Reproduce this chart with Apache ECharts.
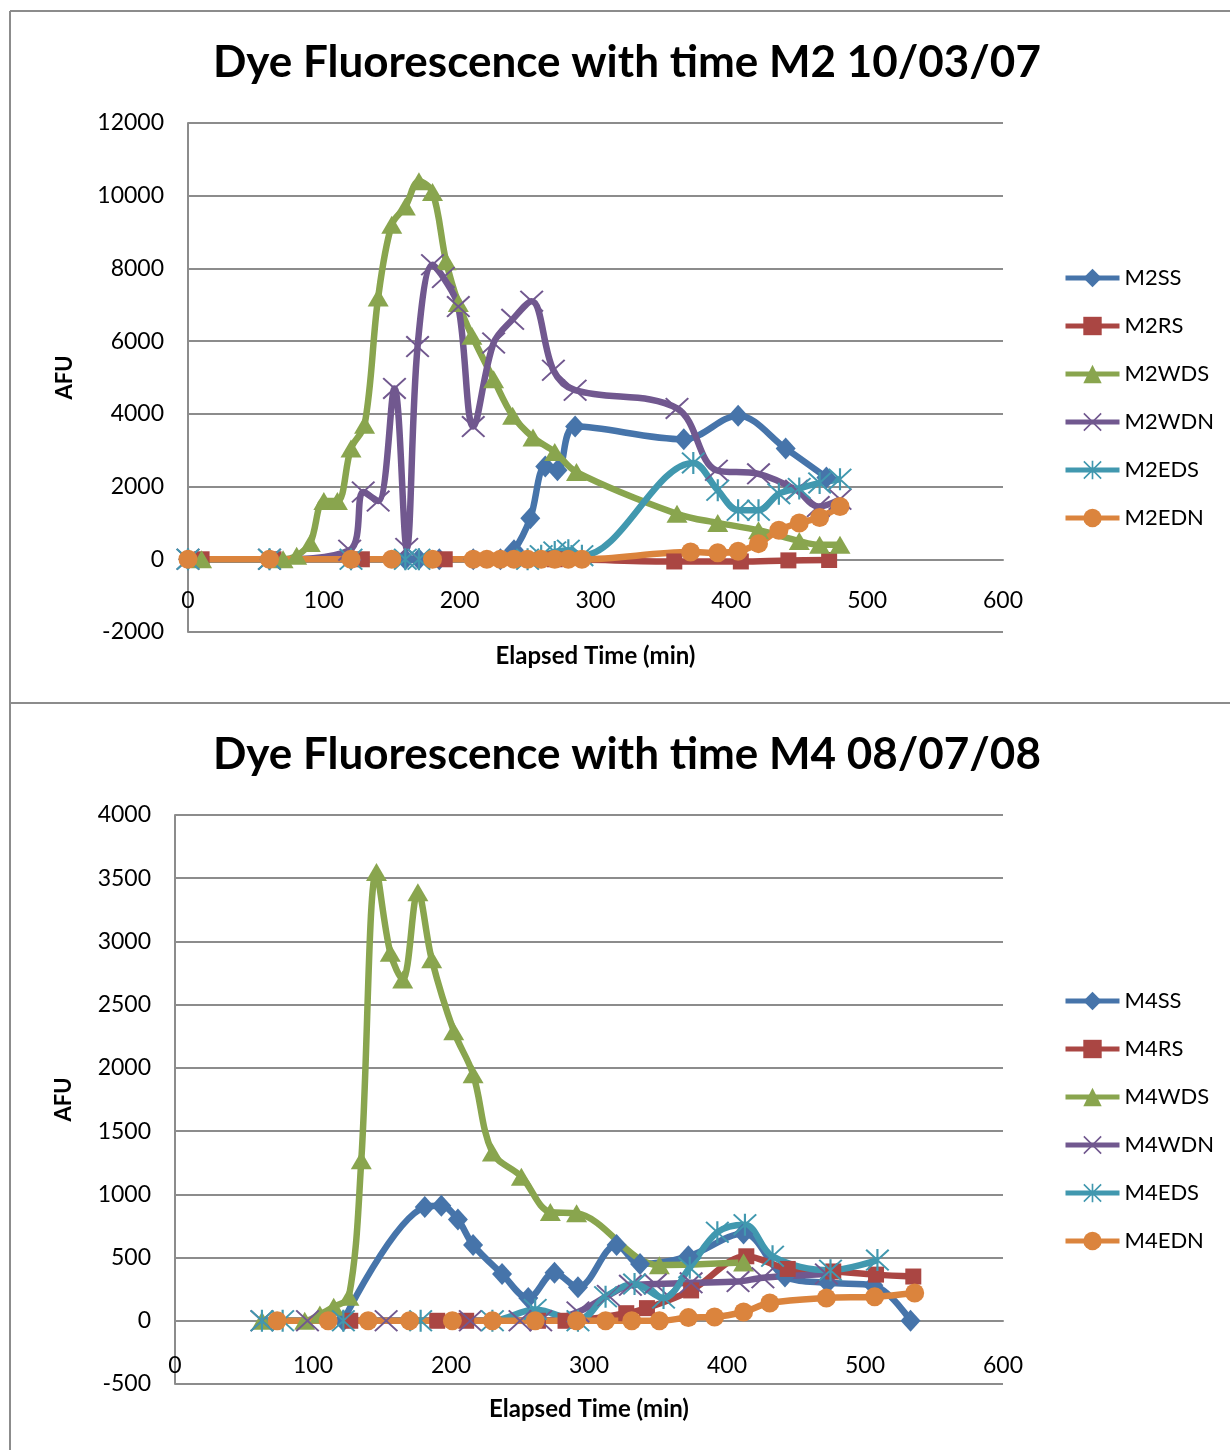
<!DOCTYPE html>
<html>
<head>
<meta charset="utf-8">
<script src="https://cdn.jsdelivr.net/npm/echarts@6/dist/echarts.min.js"></script>
<style>
  html, body { margin: 0; padding: 0; background: #fff; }
  #chart { width: 1230px; height: 1450px; }
</style>
</head>
<body>
<div id="chart"></div>
<script>
// ---- M2 run (10/03/07): elapsed time in minutes, fluorescence in AFU ----
const m2Names = ['M2SS', 'M2RS', 'M2WDS', 'M2WDN', 'M2EDS', 'M2EDN'];
const m2ssTime  = [0, 60, 120, 160, 170, 185, 210, 230, 240, 252, 263, 272, 285, 365, 405, 440, 470];
const m2ssAfu   = [0, 0, 0, 0, 0, 0, 0, 0, 250, 1130, 2550, 2450, 3650, 3300, 3950, 3050, 2250];
const m2rsTime  = [10, 63, 128, 189, 270, 358, 407, 442, 472];
const m2rsAfu   = [0, 0, 0, 0, 0, -60, -60, -30, -20];
const m2wdsTime = [10, 70, 80, 90, 100, 110, 120, 130, 140, 150, 160, 170, 180, 190, 199, 209, 225, 239, 254, 270, 286, 360, 390, 420, 450, 465, 480];
const m2wdsAfu  = [0, 0, 100, 450, 1600, 1600, 3050, 3700, 7200, 9200, 9700, 10400, 10100, 8200, 7050, 6150, 4950, 3950, 3350, 2950, 2400, 1250, 1000, 800, 500, 400, 400];
const m2wdnTime = [0, 60, 119, 129, 140, 152, 161, 169, 180, 188, 199, 210, 225, 239, 253, 269, 285, 360, 389, 420, 448, 464, 480];
const m2wdnAfu  = [0, 0, 250, 1850, 1600, 4700, 300, 5850, 8100, 7750, 6950, 3650, 5950, 6600, 7100, 5200, 4650, 4150, 2450, 2350, 1900, 1450, 1650];
const m2edsTime = [0, 60, 120, 160, 170, 250, 260, 270, 280, 290, 372, 390, 405, 420, 435, 450, 465, 480];
const m2edsAfu  = [0, 0, 0, 0, 0, 0, 100, 200, 250, 100, 2650, 1900, 1350, 1350, 1800, 1950, 2100, 2200];
const m2ednTime = [0, 60, 120, 150, 180, 210, 220, 230, 240, 250, 260, 270, 280, 290, 370, 390, 405, 420, 435, 450, 465, 480];
const m2ednAfu  = [0, 0, 0, 0, 0, 0, 0, 0, 0, 0, 0, 0, 0, 0, 200, 180, 220, 430, 800, 1000, 1150, 1450];

// ---- M4 run (08/07/08) ----
const m4Names = ['M4SS', 'M4RS', 'M4WDS', 'M4WDN', 'M4EDS', 'M4EDN'];
const m4ssTime  = [122, 181, 193, 205, 216, 237, 256, 275, 292, 320, 337, 372, 412, 442, 473, 506, 533];
const m4ssAfu   = [0, 900, 910, 800, 600, 370, 180, 380, 265, 600, 450, 510, 690, 350, 300, 280, 0];
const m4rsTime  = [127, 190, 211, 263, 283, 327, 342, 374, 414, 444, 477, 508, 535];
const m4rsAfu   = [0, 0, 0, 0, 0, 60, 100, 240, 510, 410, 390, 365, 350];
const m4wdsTime = [63, 94, 105, 115, 126, 135, 146, 156, 165, 176, 186, 202, 216, 230, 251, 272, 291, 351, 412];
const m4wdsAfu  = [0, 0, 50, 110, 190, 1270, 3550, 2910, 2700, 3390, 2860, 2290, 1950, 1330, 1140, 860, 850, 440, 460];
const m4wdnTime = [63, 96, 153, 214, 250, 265, 292, 314, 330, 348, 374, 408, 426, 472];
const m4wdnAfu  = [0, 0, 0, 0, 0, 0, 70, 200, 280, 290, 300, 310, 340, 370];
const m4edsTime = [63, 78, 122, 178, 230, 261, 292, 312, 333, 354, 373, 393, 413, 433, 475, 509];
const m4edsAfu  = [0, 0, 0, 0, 0, 90, 0, 190, 290, 180, 420, 700, 760, 510, 400, 480];
const m4ednTime = [74, 111, 140, 170, 201, 230, 261, 291, 312, 331, 351, 372, 391, 412, 431, 472, 507, 536];
const m4ednAfu  = [0, 0, 0, 0, 0, 0, 0, 0, 0, 0, 0, 25, 30, 70, 140, 180, 190, 220];

// axis ticks
const xTicks = { min: 0, max: 600, step: 100 };
const m2YTicks = { min: -2000, max: 12000, step: 2000 };
const m4YTicks = { min: -500, max: 4000, step: 500 };

// ---- styling ----
const FONT = 'Lato, "Open Sans", sans-serif';
const GRID_GREY = '#8c8c8c';
const palette = ['#4674AA', '#AA4643', '#89A54E', '#71588F', '#4198AF', '#DB843D'];
const crossPath = 'path://M0,1.2 L1.2,0 L20,18.8 L18.8,20 Z M18.8,0 L20,1.2 L1.2,20 L0,18.8 Z';
const starPath  = 'path://M0,1.2 L1.2,0 L20,18.8 L18.8,20 Z M18.8,0 L20,1.2 L1.2,20 L0,18.8 Z M9.1,0 L10.9,0 L10.9,20 L9.1,20 Z';
const markers = [
  { symbol: 'diamond',  size: [20, 22] },
  { symbol: 'rect',     size: 16 },
  { symbol: 'triangle', size: [21, 18] },
  { symbol: crossPath,  size: [24, 22] },
  { symbol: starPath,   size: [24, 22] },
  { symbol: 'circle',   size: 19 }
];

function zip(t, v) { return t.map((x, i) => [x, v[i]]); }

function makeSeries(name, idx, gridIdx, t, v) {
  const m = markers[idx];
  return {
    name: name,
    type: 'line',
    xAxisIndex: gridIdx,
    yAxisIndex: gridIdx,
    data: zip(t, v),
    smooth: 0.35,
    symbol: m.symbol,
    symbolSize: m.size,
    showAllSymbol: true,
    lineStyle: { color: palette[idx], width: 6.5 },
    itemStyle: { color: palette[idx], opacity: 1 },
    emphasis: { disabled: true },
    animation: false
  };
}

const m2Data = [[m2ssTime, m2ssAfu], [m2rsTime, m2rsAfu], [m2wdsTime, m2wdsAfu], [m2wdnTime, m2wdnAfu], [m2edsTime, m2edsAfu], [m2ednTime, m2ednAfu]];
const m4Data = [[m4ssTime, m4ssAfu], [m4rsTime, m4rsAfu], [m4wdsTime, m4wdsAfu], [m4wdnTime, m4wdnAfu], [m4edsTime, m4edsAfu], [m4ednTime, m4ednAfu]];

const series = [];
m2Names.forEach((n, i) => series.push(makeSeries(n, i, 0, m2Data[i][0], m2Data[i][1])));
m4Names.forEach((n, i) => series.push(makeSeries(n, i, 1, m4Data[i][0], m4Data[i][1])));

// the time axis sits on the zero line: shift it up from the grid bottom by the distance to y = 0
function xAxisCfg(gridIdx, liftPx, labelGap, nameGap) {
  return {
    type: 'value', gridIndex: gridIdx,
    min: xTicks.min, max: xTicks.max, interval: xTicks.step,
    offset: -liftPx,
    name: 'Elapsed Time (min)', nameLocation: 'middle', nameGap: nameGap,
    nameTextStyle: { fontFamily: FONT, fontWeight: 'bold', fontSize: 24, color: '#000' },
    axisLine: { onZero: false, lineStyle: { color: GRID_GREY, width: 2 } },
    axisTick: { show: false },
    axisLabel: { fontFamily: FONT, fontSize: 23, color: '#000', margin: labelGap },
    splitLine: { show: false }
  };
}
function yAxisCfg(gridIdx, ticks, gap) {
  return {
    type: 'value', gridIndex: gridIdx,
    min: ticks.min, max: ticks.max, interval: ticks.step,
    name: 'AFU', nameLocation: 'middle', nameGap: gap, nameRotate: 90,
    nameTextStyle: { fontFamily: FONT, fontWeight: 'bold', fontSize: 22, color: '#000' },
    axisLine: { show: true, onZero: false, lineStyle: { color: GRID_GREY, width: 2 } },
    axisTick: { show: false },
    axisLabel: { fontFamily: FONT, fontSize: 23, color: '#000', margin: 24, formatter: v => String(v) },
    splitLine: { show: true, lineStyle: { color: GRID_GREY, width: 2 } }
  };
}

function legendCfg(names, top) {
  return {
    data: names, orient: 'vertical', left: 1063, top: top, padding: 0,
    itemWidth: 54, itemHeight: 23, itemGap: 26,
    lineStyle: { width: 5 },
    textStyle: { fontFamily: FONT, fontSize: 22, color: '#000' },
    selectedMode: false
  };
}

const borderStyle = { stroke: '#8c8c8c', lineWidth: 2 };

const option = {
  backgroundColor: '#fff',
  animation: false,
  title: [
    { text: 'Dye Fluorescence with time M2 10/03/07', left: 208, top: 36,
      textStyle: { fontFamily: FONT, fontWeight: 'bold', fontSize: 44, color: '#000' } },
    { text: 'Dye Fluorescence with time M4 08/07/08', left: 208, top: 728,
      textStyle: { fontFamily: FONT, fontWeight: 'bold', fontSize: 44, color: '#000' } }
  ],
  legend: [legendCfg(m2Names, 267), legendCfg(m4Names, 990)],
  grid: [
    { left: 188, top: 123, width: 815, height: 509 },
    { left: 175, top: 815, width: 828, height: 569 }
  ],
  xAxis: [xAxisCfg(0, 72.5, 30, 85), xAxisCfg(1, 63, 33, 76)],
  yAxis: [yAxisCfg(0, m2YTicks, 112), yAxisCfg(1, m4YTicks, 100)],
  series: series,
  graphic: [
    { type: 'line', shape: { x1: 10, y1: 11, x2: 10, y2: 1450 }, style: borderStyle, silent: true },
    { type: 'line', shape: { x1: 10, y1: 11, x2: 1230, y2: 11 }, style: borderStyle, silent: true },
    { type: 'line', shape: { x1: 10, y1: 703, x2: 1230, y2: 703 }, style: borderStyle, silent: true }
  ]
};

const chart = echarts.init(document.getElementById('chart'), null, { renderer: 'canvas' });
chart.setOption(option);
</script>
</body>
</html>
